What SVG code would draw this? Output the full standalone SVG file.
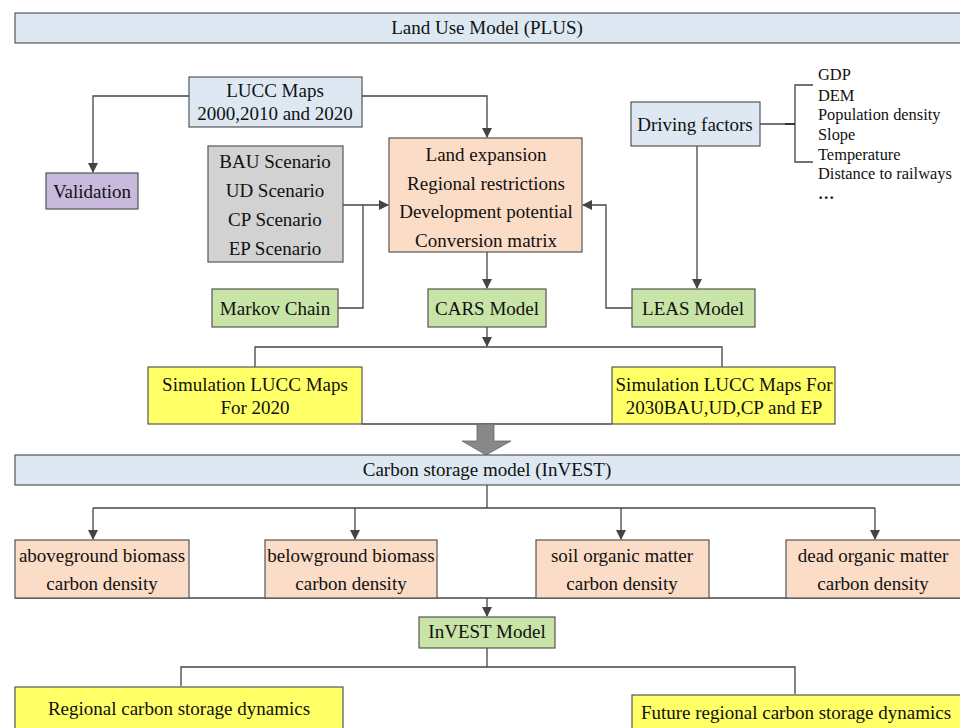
<svg xmlns="http://www.w3.org/2000/svg" width="960" height="728" viewBox="0 0 960 728">
<style>
text{font-family:"Liberation Serif","Times New Roman",serif;font-size:19px;fill:#111;text-anchor:middle}
.sm{font-size:16.4px;text-anchor:start}
.box{stroke:#555;stroke-width:1.2}
.blue{fill:#dde8f3}
.orange{fill:#fbdcc6}
.green{fill:#c8e4a6}
.yellow{fill:#ffff66}
.gray{fill:#d2d2d2}
.purple{fill:#c9badd}
.ln{fill:none;stroke:#444;stroke-width:1.3}
.arr{fill:none;stroke:#444;stroke-width:1.3;marker-end:url(#ah)}
</style>
<defs>
<marker id="ah" markerWidth="10" markerHeight="10" refX="9" refY="5" orient="auto" markerUnits="userSpaceOnUse">
<path d="M0,0 L10,5 L0,10 Z" fill="#444"/>
</marker>
</defs>
<rect width="960" height="728" fill="#fff"/>
<g id="connectors">
<polyline class="arr" points="189,96 93,96 93,172"/>
<polyline class="arr" points="362,96 487,96 487,137"/>
<polyline class="arr" points="343,205 388,205"/>
<polyline class="ln" points="338,308 363,308 363,205"/>
<polyline class="arr" points="487,252 487,288"/>
<polyline class="arr" points="632,308 606,308 606,205 583,205"/>
<polyline class="arr" points="697,146 697,288"/>
<polyline class="ln" points="760,124 795,124"/>
<line x1="785" y1="124" x2="795" y2="124" stroke="#333" stroke-width="2"/>
<polyline class="ln" points="813,85 795,85 795,162 813,162"/>
<polyline class="arr" points="487,327 487,346"/>
<polyline class="ln" points="255,367 255,347 722,347 722,367"/>
<line class="ln" x1="362" y1="424" x2="612" y2="424"/>
<polygon points="477,424 494,424 494,441 511,441 486,455 462,441 477,441" fill="#888" stroke="#666" stroke-width="0.8"/>
<polyline class="ln" points="487,485 487,508"/>
<line class="ln" x1="93" y1="508" x2="875" y2="508"/>
<polyline class="arr" points="93,508 93,539"/>
<polyline class="arr" points="355,508 355,539"/>
<polyline class="arr" points="621,508 621,539"/>
<polyline class="arr" points="875,508 875,539"/>
<line class="ln" x1="15" y1="598" x2="960" y2="598"/>
<polyline class="arr" points="487,598 487,616"/>
<polyline class="ln" points="487,648 487,667"/>
<polyline class="ln" points="181,686 181,667 795,667 795,694"/>
</g>
<g id="plus"><rect class="box blue" x="15" y="13" width="950" height="30"/><text x="487" y="34">Land Use Model (PLUS)</text></g>
<g id="lucc"><rect class="box blue" x="189" y="77" width="173" height="50"/><text x="275" y="97">LUCC Maps</text><text x="275" y="120">2000,2010 and 2020</text></g>
<g id="validation"><rect class="box purple" x="46" y="173" width="92" height="36"/><text x="92" y="198">Validation</text></g>
<g id="scenarios"><rect class="box gray" x="208" y="146" width="135" height="116"/><text x="275" y="168">BAU Scenario</text><text x="275" y="197">UD Scenario</text><text x="275" y="226">CP Scenario</text><text x="275" y="255">EP Scenario</text></g>
<g id="modules"><rect class="box orange" x="389" y="138" width="193" height="114"/><text x="486" y="161">Land expansion</text><text x="486" y="190">Regional restrictions</text><text x="486" y="218">Development potential</text><text x="486" y="247">Conversion matrix</text></g>
<g id="driving"><rect class="box blue" x="631" y="102" width="129" height="44"/><text x="695" y="131">Driving factors</text></g>
<g id="factors">
<text class="sm" x="818" y="80">GDP</text>
<text class="sm" x="818" y="101">DEM</text>
<text class="sm" x="818" y="120">Population density</text>
<text class="sm" x="818" y="140">Slope</text>
<text class="sm" x="818" y="160">Temperature</text>
<text class="sm" x="818" y="179">Distance to railways</text>
<text class="sm" x="818" y="199" style="font-weight:bold">…</text>
</g>
<g id="markov"><rect class="box green" x="212" y="289" width="126" height="38"/><text x="275" y="315">Markov Chain</text></g>
<g id="cars"><rect class="box green" x="428" y="289" width="118" height="38"/><text x="487" y="315">CARS Model</text></g>
<g id="leas"><rect class="box green" x="632" y="289" width="123" height="38"/><text x="693" y="315">LEAS Model</text></g>
<g id="sim2020"><rect class="box yellow" x="148" y="367" width="214" height="57"/><text x="255" y="391">Simulation LUCC Maps</text><text x="255" y="414">For 2020</text></g>
<g id="sim2030"><rect class="box yellow" x="612" y="367" width="223" height="57"/><text x="724" y="391">Simulation LUCC Maps For</text><text x="724" y="414">2030BAU,UD,CP and EP</text></g>
<g id="invest"><rect class="box blue" x="15" y="455" width="950" height="30"/><text x="487" y="476">Carbon storage model (InVEST)</text></g>
<g id="above"><rect class="box orange" x="15" y="540" width="174" height="58"/><text x="102" y="562">aboveground biomass</text><text x="102" y="590">carbon density</text></g>
<g id="below"><rect class="box orange" x="265" y="540" width="172" height="58"/><text x="351" y="562">belowground biomass</text><text x="351" y="590">carbon density</text></g>
<g id="soil"><rect class="box orange" x="536" y="540" width="173" height="58"/><text x="622" y="562">soil organic matter</text><text x="622" y="590">carbon density</text></g>
<g id="dead"><rect class="box orange" x="786" y="540" width="180" height="58"/><text x="873" y="562">dead organic matter</text><text x="873" y="590">carbon density</text></g>
<g id="investmodel"><rect class="box green" x="419" y="617" width="136" height="31"/><text x="487" y="638">InVEST Model</text></g>
<g id="regional"><rect class="box yellow" x="15" y="687" width="328" height="45"/><text x="179" y="715">Regional carbon storage dynamics</text></g>
<g id="future"><rect class="box yellow" x="632" y="695" width="334" height="40"/><text x="796" y="719">Future regional carbon storage dynamics</text></g>
</svg>
